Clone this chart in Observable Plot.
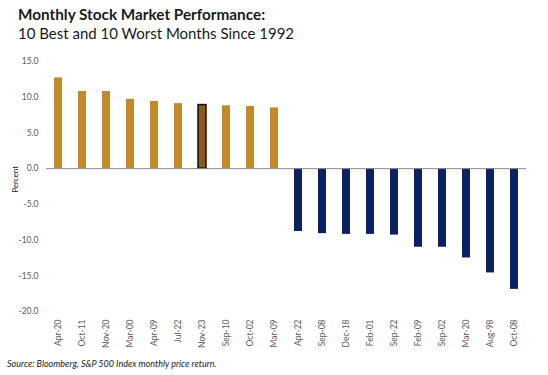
<!DOCTYPE html>
<html><head><meta charset="utf-8">
<script src="https://cdn.jsdelivr.net/npm/d3@7"></script>
<script src="https://cdn.jsdelivr.net/npm/@observablehq/plot@0.6"></script>
<style>
body{margin:0;background:#fff;font-family:Lato,"Open Sans",sans-serif;width:548px;height:375px;overflow:hidden;}
#t1{position:absolute;left:18px;top:5px;font-size:15.3px;font-weight:bold;color:#1a1a1a;}
#t2{position:absolute;left:18px;top:24px;font-size:15px;color:#1a1a1a;}
#chart{position:absolute;left:0;top:48px;}
#cap{position:absolute;left:7px;top:358px;font-size:9px;font-style:italic;color:#1a1a1a;}
</style></head>
<body>
<div id="t1">Monthly Stock Market Performance:</div>
<div id="t2">10 Best and 10 Worst Months Since 1992</div>
<div id="chart"></div>
<div id="cap">Source: Bloomberg, S&amp;P 500 Index monthly price return.</div>
<script>
const months = ["Apr-20","Oct-11","Nov-20","Mar-00","Apr-09","Jul-22","Nov-23","Sep-10","Oct-02","Mar-09",
                "Apr-22","Sep-08","Dec-18","Feb-01","Sep-22","Feb-09","Sep-02","Mar-20","Aug-98","Oct-08"];
const returns = [12.7,10.8,10.8,9.7,9.4,9.1,8.9,8.8,8.7,8.5,
                 -8.8,-9.1,-9.2,-9.2,-9.3,-11.0,-11.0,-12.5,-14.6,-16.9];
const groups = ["best","best","best","best","best","best","current","best","best","best",
                "worst","worst","worst","worst","worst","worst","worst","worst","worst","worst"];
const yTicks = [15,10,5,0,-5,-10,-15,-20];

const data = months.map((m,i)=>({month:m, value:returns[i], group:groups[i]}));

const chart = Plot.plot({
  width:548, height:305,
  marginLeft:46, marginRight:22, marginTop:13, marginBottom:42,
  style:{fontFamily:"Lato, 'Open Sans', sans-serif", fontSize:"8px", color:"#595959", background:"#fff"},
  x:{domain:months, padding:0, label:null, tickSize:0, tickRotate:-90},
  y:{domain:[-20,15], ticks:yTicks, tickFormat:d=>d.toFixed(1), label:null, tickSize:0},
  color:{domain:["best","current","worst"], range:["#c38a2b","#8a5a1c","#0b2160"]},
  marks:[
    Plot.gridY(yTicks,{stroke:"#e4e4e4", strokeOpacity:1, x1:46, x2:526}),
    Plot.axisY({ticks:yTicks, tickFormat:d=>d.toFixed(1), tickSize:0, tickPadding:8, fill:"#595959", fontSize:8.5}),
    Plot.axisX({tickSize:0, tickRotate:-90, tickPadding:8, fill:"#595959", fontSize:8.5}),
    Plot.barY(data,{x:"month", y:"value", fill:"group", insetLeft:8, insetRight:8}),
    Plot.barY(data.filter(d=>d.group==="current"),{x:"month", y:"value", fill:"none", stroke:"#111", strokeWidth:1.5, insetLeft:8, insetRight:8}),
    Plot.ruleY([0],{stroke:"#8c8c8c", strokeWidth:1}),
    Plot.text(["Percent"],{frameAnchor:"left", textAnchor:"middle", dx:-31, y:-1.5, rotate:-90, fill:"#1a1a1a", fontSize:8})
  ]
});
document.getElementById("chart").appendChild(chart);
</script>
</body></html>
